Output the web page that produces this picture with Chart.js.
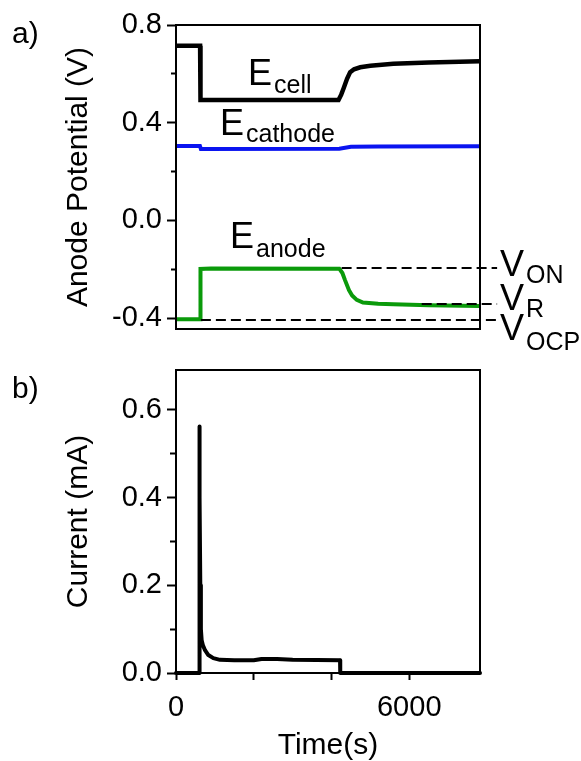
<!DOCTYPE html>
<html>
<head>
<meta charset="utf-8">
<script src="https://cdn.jsdelivr.net/npm/chart.js@4.4.1/dist/chart.umd.min.js"></script>
<style>
  body { margin: 0; background: #fff; }
  #wrap { position: relative; width: 581px; height: 761px; }
  #wrap canvas { position: absolute; left: 0; top: 0; }
</style>
</head>
<body>
<div id="wrap">
  <canvas id="potentialChart" width="581" height="761"></canvas>
  <canvas id="currentChart" width="581" height="761"></canvas>
</div>
<script>
// time axis (s), shared by both panels
const timeMax = 7820;
const timeTicks = [0, 2000, 4000, 6000];
const timeLabels = [0, 6000];

// panel a) potentials (V)
const cellTime = [0, 620, 630, 4180, 4250, 4310, 4400, 4480, 4580, 4740, 5000, 5590, 6500, 7820];
const cellPotential = [0.715, 0.715, 0.493, 0.493, 0.515, 0.54, 0.58, 0.607, 0.619, 0.627, 0.633, 0.641, 0.647, 0.652];

const cathodeTime = [0, 615, 640, 4200, 4500, 5200, 7820];
const cathodePotential = [0.305, 0.305, 0.293, 0.294, 0.302, 0.303, 0.304];

const anodeTime = [0, 620, 630, 900, 4200, 4280, 4350, 4450, 4530, 4650, 4810, 5200, 5590, 6500, 7820];
const anodePotential = [-0.404, -0.404, -0.198, -0.196, -0.197, -0.215, -0.245, -0.285, -0.307, -0.325, -0.336, -0.341, -0.343, -0.347, -0.35];

// dashed reference levels V_ON, V_R, V_OCP
const refNames = ['ON', 'R', 'OCP'];
const refLevels = [-0.194, -0.342, -0.407];
const refStart = [4260, 6320, 640];
const refEnd = 8260;

const potentialTicks = [-0.4, -0.2, 0, 0.2, 0.4, 0.6, 0.8];
const potentialLabels = [-0.4, 0, 0.4, 0.8];

// panel b) current (mA)
const currentTime = [0, 600, 600, 612, 625, 640, 660, 690, 746, 831, 960, 1132, 1500, 2000, 2200, 2600, 3000, 4220, 4225, 7820];
const currentValue = [0, 0, 0.562, 0.4, 0.2, 0.1, 0.075, 0.064, 0.052, 0.041, 0.034, 0.03, 0.029, 0.029, 0.032, 0.032, 0.03, 0.029, 0, 0];

const currentTicks = [0, 0.1, 0.2, 0.3, 0.4, 0.5, 0.6];
const currentLabels = [0, 0.2, 0.4, 0.6];

const family = '"Liberation Sans", Arial, sans-serif';
Chart.defaults.font.family = family;
Chart.defaults.color = '#000';

function toPoints(xs, ys) {
    return xs.map((x, i) => ({ x: x, y: ys[i] }));
}

// box round the plot area
const framePlugin = {
    id: 'frame',
    afterDraw(chart) {
        const { ctx, chartArea: a } = chart;
        ctx.save();
        ctx.strokeStyle = '#000';
        ctx.lineWidth = 2;
        ctx.strokeRect(a.left, a.top, a.right - a.left, a.bottom - a.top);
        ctx.restore();
    }
};

// panel letters and curve names with subscripts
const labelPlugin = {
    id: 'labels',
    afterDraw(chart, args, opts) {
        const ctx = chart.ctx;
        ctx.save();
        ctx.fillStyle = '#000';
        ctx.textAlign = 'left';
        ctx.textBaseline = 'alphabetic';
        (opts.items || []).forEach(it => {
            ctx.font = it.size + 'px ' + family;
            ctx.fillText(it.text, it.x, it.y);
            if (it.sub) {
                const w = ctx.measureText(it.text).width;
                ctx.font = '25px ' + family;
                ctx.fillText(it.sub, it.x + w + 2, it.y + it.dy);
            }
        });
        ctx.restore();
    }
};

function yAxis(min, max, ticks, labels, title, minorDash) {
    return {
        type: 'linear',
        min: min,
        max: max,
        afterBuildTicks: s => { s.ticks = ticks.map(v => ({ value: v })); },
        afterFit: s => { s.width = 115; },
        ticks: {
            autoSkip: false,
            padding: 5,
            color: '#000',
            font: { size: 29 },
            callback: v => labels.includes(v) ? v.toFixed(1) : ''
        },
        grid: {
            drawOnChartArea: false,
            drawTicks: true,
            tickLength: 9,
            tickWidth: 2,
            tickColor: '#000',
            tickBorderDash: c => (c.tick && !labels.includes(c.tick.value)) ? minorDash : []
        },
        border: { display: true, color: '#000', width: 2 },
        title: { display: true, text: title, color: '#000', font: { size: 30 }, padding: 0 }
    };
}

const lineStyle = { pointRadius: 0, tension: 0, fill: false };

new Chart(document.getElementById('potentialChart'), {
    type: 'line',
    data: {
        datasets: [
            ...refLevels.map((v, i) => Object.assign({
                label: 'V' + refNames[i],
                data: [{ x: refStart[i], y: v }, { x: refEnd, y: v }],
                borderColor: '#000',
                borderWidth: 2,
                borderDash: [10, 5],
                clip: false,
                order: 0
            }, lineStyle)),
            Object.assign({ label: 'Ecell', data: toPoints(cellTime, cellPotential), borderColor: '#000', borderWidth: 4.5, order: 1 }, lineStyle),
            Object.assign({ label: 'Ecathode', data: toPoints(cathodeTime, cathodePotential), borderColor: '#0a14f0', borderWidth: 4, order: 2 }, lineStyle),
            Object.assign({ label: 'Eanode', data: toPoints(anodeTime, anodePotential), borderColor: '#0a9a0a', borderWidth: 4, order: 3 }, lineStyle)
        ]
    },
    options: {
        responsive: false,
        animation: false,
        events: [],
        layout: { padding: { left: 61, right: 101, top: 25, bottom: 432 } },
        scales: {
            x: { type: 'linear', display: false, min: 0, max: timeMax },
            y: yAxis(-0.444, 0.8, potentialTicks, potentialLabels, 'Anode Potential (V)', [0, 4, 5, 20])
        },
        plugins: {
            legend: { display: false },
            tooltip: { enabled: false },
            labels: {
                items: [
                    { text: 'a)', x: 12, y: 43, size: 30 },
                    { text: 'E', sub: 'cell', x: 248, y: 85, dy: 8, size: 36 },
                    { text: 'E', sub: 'cathode', x: 220, y: 135, dy: 7, size: 36 },
                    { text: 'E', sub: 'anode', x: 230, y: 248, dy: 9, size: 36 },
                    { text: 'V', sub: 'ON', x: 500, y: 276, dy: 7, size: 36 },
                    { text: 'V', sub: 'R', x: 500, y: 310, dy: 7, size: 36 },
                    { text: 'V', sub: 'OCP', x: 500, y: 340, dy: 10, size: 36 }
                ]
            }
        }
    },
    plugins: [framePlugin, labelPlugin]
});

new Chart(document.getElementById('currentChart'), {
    type: 'line',
    data: {
        datasets: [
            Object.assign({
                label: 'Current',
                data: toPoints(currentTime, currentValue),
                borderColor: '#000',
                borderWidth: 4,
                borderJoinStyle: 'round',
                borderCapStyle: 'round',
                clip: false
            }, lineStyle)
        ]
    },
    options: {
        responsive: false,
        animation: false,
        events: [],
        layout: { padding: { left: 61, right: 101, top: 370, bottom: 0 } },
        scales: {
            x: {
                type: 'linear',
                min: 0,
                max: timeMax,
                afterBuildTicks: s => { s.ticks = timeTicks.map(v => ({ value: v })); },
                afterFit: s => { s.height = 88; },
                ticks: {
                    autoSkip: false,
                    maxRotation: 0,
                    padding: 13,
                    color: '#000',
                    font: { size: 29, lineHeight: 1 },
                    callback: v => timeLabels.includes(v) ? String(v) : ''
                },
                grid: { drawOnChartArea: false, drawTicks: true, tickLength: 7, tickWidth: 2, tickColor: '#000' },
                border: { display: true, color: '#000', width: 2 },
                title: { display: true, text: 'Time(s)', color: '#000', font: { size: 30, lineHeight: 1 }, padding: 0 }
            },
            y: yAxis(0, 0.691, currentTicks, currentLabels, 'Current (mA)', [0, 3, 6, 20])
        },
        plugins: {
            legend: { display: false },
            tooltip: { enabled: false },
            labels: { items: [{ text: 'b)', x: 12, y: 398, size: 30 }] }
        }
    },
    plugins: [framePlugin, labelPlugin]
});
</script>
</body>
</html>
